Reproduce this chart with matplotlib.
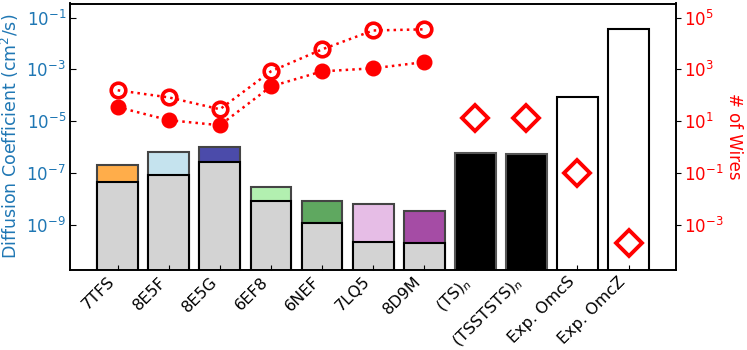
import matplotlib
matplotlib.use("Agg")
import matplotlib.pyplot as plt
import numpy as np

# categories
labels = ["7TFS", "8E5F", "8E5G", "6EF8", "6NEF", "7LQ5", "8D9M",
          r"(TS)$_n$", r"(TSSTSTS)$_n$", "Exp. OmcS", "Exp. OmcZ"]

# diffusion coefficients (cm^2/s)
d_low = [4.5e-8, 8.4e-8, 2.6e-7, 8.4e-9, 1.2e-9, 2.2e-10, 2.0e-10]
d_high = [2.0e-7, 6.5e-7, 1.0e-6, 2.9e-8, 8.4e-9, 6.4e-9, 3.5e-9]
top_colors = ["#ffad4a", "#c5e3ee", "#4b4baa", "#b2f0b0", "#5fa860", "#e6bde6", "#a54ca5"]
d_model = [5.9e-7, 5.4e-7]
d_exp = [8.4e-5, 3.5e-2]

# number of wires (right axis)
wires_open = [156, 83, 29, 840, 5900, 31600, 35000]
wires_filled = [35, 11, 7, 220, 840, 1100, 1900]
wires_diamond = [13, 13.5, 0.1, 2e-4]

fig = plt.figure(figsize=(7.47, 3.5), dpi=100)
ax = fig.add_axes([0.094, 0.229, 0.811, 0.761])
bottom = 1e-11
x = np.arange(len(labels))

for i in range(len(d_low)):
    ax.bar(x[i], d_high[i] - bottom, bottom=bottom, width=0.8, color=top_colors[i],
           edgecolor="#444444", linewidth=1.5)
    ax.bar(x[i], d_low[i] - bottom, bottom=bottom, width=0.8, color="lightgray",
           edgecolor="black", linewidth=1.5)
for j, v in enumerate(d_model):
    ax.bar(x[7 + j], v - bottom, bottom=bottom, width=0.8, color="black",
           edgecolor="#555555", linewidth=1.5)
for j, v in enumerate(d_exp):
    ax.bar(x[9 + j], v - bottom, bottom=bottom, width=0.8, color="white",
           edgecolor="black", linewidth=1.5)

ax.set_yscale("log")
ax.set_ylim(10 ** -10.73, 10 ** -0.46)
ax.set_xlim(-0.93, 10.93)
ax.set_yticks([1e-1, 1e-3, 1e-5, 1e-7, 1e-9])
ax.yaxis.set_minor_locator(matplotlib.ticker.NullLocator())
ax.set_xticks(x)
ax.set_xticklabels(labels, rotation=45, ha="right", fontsize=11.5)
ax.tick_params(axis="x", direction="in", length=3.6, pad=3)
ax.tick_params(axis="y", direction="in", length=4.3, labelsize=12, pad=3,
               colors="black", labelcolor="tab:blue")
ax.set_ylabel("Diffusion Coefficient (cm$^2$/s)", color="tab:blue", fontsize=12.5,
              labelpad=4)
for s in ax.spines.values():
    s.set_linewidth(1.2)

ax2 = ax.twinx()
ax2.set_yscale("log")
ax2.set_ylim(10 ** -4.73, 10 ** 5.54)
ax2.plot(x[:7], wires_open, ":", color="red", lw=1.8, marker="o", ms=10.5,
         mfc="none", mec="red", mew=2.6)
ax2.plot(x[:7], wires_filled, ":", color="red", lw=1.8, marker="o", ms=10.5,
         mfc="red", mec="red")
ax2.plot(x[7:], wires_diamond, linestyle="none", marker="D", ms=13,
         mfc="none", mec="red", mew=2.8)
ax2.set_yticks([1e5, 1e3, 1e1, 1e-1, 1e-3])
ax2.yaxis.set_minor_locator(matplotlib.ticker.NullLocator())
ax2.tick_params(axis="y", direction="out", length=3.6, labelsize=12, pad=2,
                colors="black", labelcolor="red")
ax2.set_ylabel("# of Wires", color="red", fontsize=12, rotation=270, labelpad=14)
for s in ax2.spines.values():
    s.set_linewidth(1.2)

fig.savefig("out.png", dpi=100)
